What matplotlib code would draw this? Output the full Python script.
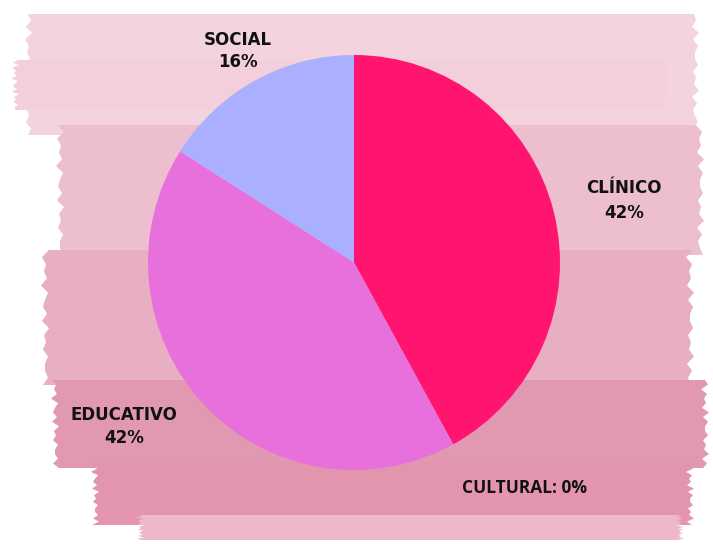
import numpy as np
import matplotlib.pyplot as plt
from matplotlib.patches import Polygon

categories = ["CLÍNICO", "EDUCATIVO", "SOCIAL", "CULTURAL"]
values = [42, 42, 16, 0]
colors = ["#FF1470", "#E870DC", "#AAAFFF", "#F2A0C0"]

fig = plt.figure(figsize=(7.13, 5.44), dpi=100)

# background "brush strokes" (pixel coordinates)
bg = fig.add_axes([0, 0, 1, 1])
bg.set_xlim(0, 713)
bg.set_ylim(544, 0)
bg.axis("off")

strokes = [
    # x0, x1, y0, y1, colour
    (28, 695, 14, 135, "#F3D3DD"),
    (15, 665, 60, 110, "#F2CFDA"),
    (60, 700, 125, 255, "#EDBFCE"),
    (45, 690, 250, 385, "#E8AEC1"),
    (55, 705, 380, 468, "#E198B1"),
    (95, 690, 462, 525, "#E395AE"),
    (140, 680, 515, 540, "#EDB8C9"),
]
jit = [0, 3, -2, 4, -3, 1, -1, 2, -4, 3, 0, -2, 2, -3, 4, -1, 1, -2, 3, 0]
for k, (x0, x1, y0, y1, c) in enumerate(strokes):
    n = 20
    ys = np.linspace(y0, y1, n)
    left = [(x0 + jit[(i + k) % 20], ys[i]) for i in range(n)]
    right = [(x1 + jit[(i + 7 + k) % 20], ys[::-1][i]) for i in range(n)]
    bg.add_patch(Polygon(left + right, closed=True, facecolor=c, lw=0))

# pie
ax = fig.add_axes([148 / 713, 74 / 544, 412 / 713, 415 / 544])
ax.pie(values, colors=colors, startangle=90, counterclock=False,
       wedgeprops=dict(linewidth=0))
ax.set_xlim(-1, 1)
ax.set_ylim(-1, 1)
ax.set_aspect("auto")
ax.axis("off")

font = dict(family="DejaVu Sans", fontweight="bold", fontsize=12, color="#111111",
            ha="center", va="center")
fig.text(624 / 713, 1 - 188 / 544, categories[0], **font)
fig.text(624 / 713, 1 - 213 / 544, f"{values[0]}%", **font)
fig.text(124 / 713, 1 - 415 / 544, categories[1], **font)
fig.text(124 / 713, 1 - 438 / 544, f"{values[1]}%", **font)
fig.text(238 / 713, 1 - 40 / 544, categories[2], **font)
fig.text(238 / 713, 1 - 62 / 544, f"{values[2]}%", **font)
fig.text(525 / 713, 1 - 488 / 544, f"{categories[3]}: {values[3]}%",
         family="Open Sans", fontweight="bold", fontsize=12.5, color="#111111",
         ha="center", va="center")

fig.savefig("out.png", dpi=100)
